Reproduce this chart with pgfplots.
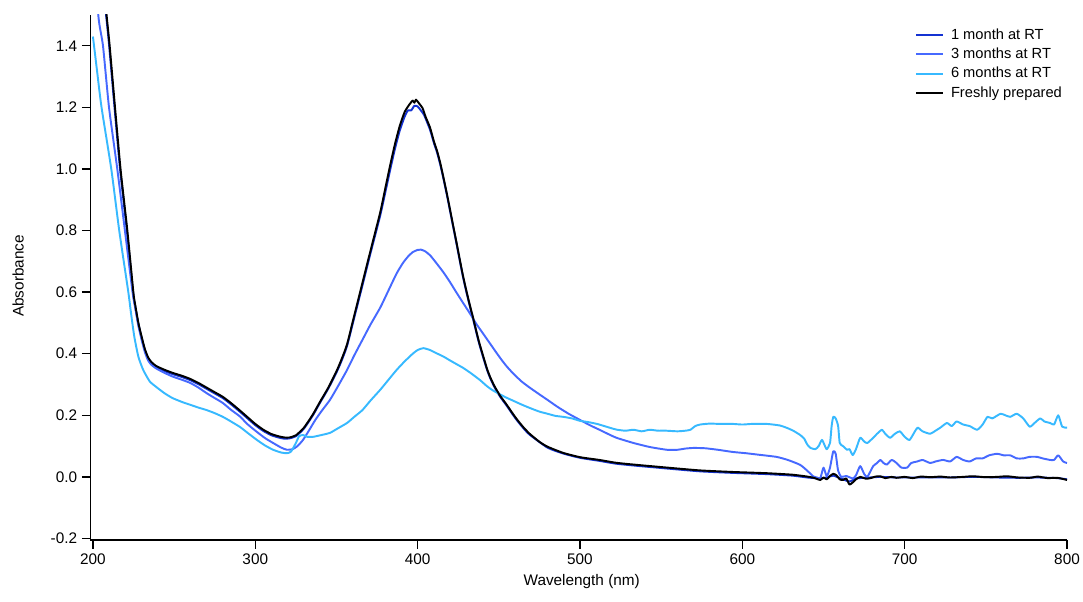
\documentclass[border=0pt]{standalone}
\usepackage{fontspec}
\setmainfont{Liberation Sans}
\usepackage{pgfplots}
\usepackage{pgfplotstable}
\pgfplotsset{compat=1.18}
\definecolor{c1m}{RGB}{20,50,210}
\definecolor{c3m}{RGB}{70,105,255}
\definecolor{c6m}{RGB}{55,185,255}
\newcommand{\tickfont}{\fontsize{11.5}{13}\selectfont}

\pgfplotstableread{
x y
200 1.95
205 1.69
208.4 1.50
210.3 1.40
213.6 1.20
217.0 1.00
221.2 0.80
224.9 0.60
226 0.56
228 0.50
230 0.455
232 0.415
234 0.388
236 0.373
239 0.36
244 0.348
249 0.338
255 0.328
260 0.318
265 0.305
270 0.290
275 0.275
280 0.260
285 0.240
290 0.218
295 0.195
300 0.172
305 0.153
310 0.139
315 0.131
318 0.128
321 0.128
325 0.135
330 0.160
335.5 0.203
340 0.245
345 0.290
350 0.343
353 0.380
356.5 0.43
361 0.525
366 0.63
371 0.735
377 0.86
380 0.935
383 1.01
386 1.08
389 1.14
392 1.185
395 1.21
397 1.222
398 1.215
399 1.225
401 1.212
403 1.198
405 1.168
407.6 1.135
410 1.09
412 1.058
414 1.018
416 0.97
418 0.92
420 0.867
422 0.813
424 0.76
426 0.705
428 0.652
430 0.605
432.3 0.555
434 0.52
436.4 0.468
438 0.435
440.5 0.39
442.8 0.35
444.6 0.325
447 0.298
448.7 0.282
451 0.262
454.9 0.234
458 0.21
461 0.188
465 0.162
469 0.14
475 0.114
480 0.098
489.6 0.078
500 0.064
512 0.055
522 0.046
533 0.040
554 0.030
574 0.021
594 0.016
615 0.012
631 0.007
640 0.001
644 -0.003
648 -0.010
650 -0.002
652 -0.008
654 0.003
656 0.010
658 0.005
660 -0.008
662 -0.010
664 -0.005
666 -0.025
668 -0.018
670 -0.008
672.6 0.000
676 -0.006
679 -0.004
682 0.001
685 0.002
688 -0.004
692 0.000
695 -0.003
700 0.000
705 -0.004
710 0.001
716 -0.001
722 0.001
728 -0.002
736 0.000
742 0.002
750 -0.001
757 0.000
763 0.002
770 -0.002
777 -0.003
782 0.001
788 -0.004
794 -0.003
800 -0.010
}\fresh

\pgfplotstableread{
x y
200 1.90
205 1.65
208.1 1.50
210.0 1.40
213.3 1.20
216.7 1.00
220.9 0.80
224.7 0.60
226 0.555
228 0.497
230 0.452
232 0.412
234 0.385
236 0.370
239 0.357
244 0.344
249 0.334
255 0.324
260 0.314
265 0.301
270 0.286
275 0.271
280 0.256
285 0.236
290 0.214
295 0.191
300 0.168
305 0.149
310 0.135
315 0.127
318 0.124
321 0.125
325 0.132
330 0.157
335.5 0.200
340 0.242
345 0.287
350 0.339
353 0.375
356.5 0.425
361 0.518
366 0.622
371 0.727
377 0.85
380 0.922
383 0.995
386 1.065
389 1.125
392 1.17
394 1.19
396 1.19
398 1.205
400 1.203
402 1.19
404 1.175
407.6 1.128
410 1.085
412 1.053
414 1.013
416 0.966
418 0.916
420 0.863
422 0.809
424 0.756
426 0.701
428 0.648
430 0.601
432.3 0.551
434 0.516
436.4 0.464
438 0.431
440.5 0.386
442.8 0.347
444.6 0.322
447 0.295
448.7 0.279
451 0.259
454.9 0.231
458 0.207
461 0.185
465 0.159
469 0.137
480 0.095
489.6 0.076
500 0.062
512 0.052
522 0.043
533 0.037
554 0.027
574 0.018
594 0.013
615 0.009
631 0.004
640 -0.002
648 -0.005
652 -0.002
656 0.004
660 -0.004
666 -0.015
670 -0.005
676 -0.003
685 0.000
695 -0.002
705 -0.002
716 -0.002
728 -0.002
742 0.000
757 -0.002
770 -0.003
782 -0.002
794 -0.004
800 -0.008
}\onemonth

\pgfplotstableread{
x y
200 1.80
203.3 1.50
206.2 1.40
209.9 1.20
215.0 1.00
219.7 0.80
224.4 0.60
226 0.55
228 0.49
230 0.445
232 0.405
234 0.378
236 0.364
239 0.352
244 0.338
249 0.326
255 0.315
260 0.305
265 0.29
270 0.272
275 0.256
280 0.240
285 0.218
290.6 0.196
295 0.172
301 0.146
306 0.126
311 0.110
316 0.095
319.5 0.088
323 0.090
326 0.100
329.4 0.120
333 0.150
337 0.185
341 0.215
346 0.25
351 0.295
356.5 0.347
361 0.395
366 0.445
371 0.495
377 0.55
382 0.605
387 0.66
391 0.695
394 0.715
397 0.73
400 0.737
402 0.738
404.5 0.733
407.6 0.72
411 0.698
415.8 0.665
420 0.632
424 0.598
428 0.565
432.3 0.53
436 0.498
440.5 0.464
444.6 0.433
448.7 0.402
452 0.378
455 0.358
459 0.335
464 0.31
469 0.29
475 0.268
480 0.25
486 0.228
493 0.205
500 0.185
506 0.168
512 0.153
522 0.128
533 0.11
543 0.097
553.6 0.088
560 0.088
565 0.092
570 0.094
577 0.093
585 0.088
594 0.081
602 0.077
610 0.072
621 0.065
628 0.055
635.6 0.039
640 0.020
643.6 0.002
646 -0.002
648 -0.005
650 0.030
652 0.002
654 0.030
656 0.083
657.5 0.075
659 0.020
661 0.000
664 0.003
668 -0.005
670 0.005
672.6 0.035
675 0.010
677 0.000
680.6 0.035
683 0.045
685 0.055
687 0.045
689 0.040
692 0.055
695 0.045
698 0.030
701.5 0.030
704 0.045
707.7 0.050
711 0.055
715.7 0.045
719 0.050
723.7 0.055
728 0.050
732 0.065
736 0.055
740 0.050
744 0.060
748 0.060
752 0.070
757 0.075
761 0.070
765 0.070
769 0.060
773 0.060
777 0.065
781.6 0.065
785 0.060
789.6 0.055
792 0.055
794.6 0.070
797.6 0.050
800 0.045
}\threemonths

\pgfplotstableread{
x y
200 1.43
202.5 1.32
205.3 1.20
211.3 1.00
216.2 0.80
221.8 0.60
223.5 0.53
225.5 0.455
228 0.39
231 0.347
235 0.31
239 0.292
244 0.272
249 0.256
255 0.243
260 0.234
265 0.225
270 0.217
275 0.207
280 0.195
285 0.18
290.6 0.162
296 0.14
301 0.12
306 0.102
311 0.088
316 0.079
319.5 0.077
322 0.082
325 0.110
327 0.132
329.4 0.136
332 0.13
335.5 0.13
340 0.135
346 0.143
351 0.158
356.5 0.175
361 0.195
366 0.217
371 0.248
377 0.283
382 0.315
387 0.347
392 0.375
397 0.40
400 0.412
403.5 0.418
407.6 0.412
411 0.403
415.8 0.391
420 0.378
424 0.366
428 0.354
433 0.336
438.5 0.314
442.6 0.295
446 0.282
449 0.273
454 0.259
459 0.247
464 0.235
469 0.224
475 0.212
480 0.205
485 0.198
489.6 0.195
495 0.19
500 0.182
505 0.178
510.5 0.172
515 0.165
520 0.157
523 0.153
528 0.150
533 0.153
538 0.148
543 0.153
548 0.150
553 0.150
560 0.148
565 0.150
568 0.153
571 0.165
574 0.170
580 0.173
586 0.172
594 0.172
600 0.170
606 0.172
615 0.172
623 0.167
628 0.158
632 0.148
635.6 0.136
638 0.125
640 0.105
642 0.094
645 0.090
647 0.100
649 0.120
650.5 0.105
652 0.090
654 0.110
655 0.165
656 0.195
657.5 0.190
659 0.165
660 0.11
662 0.100
664.5 0.088
666 0.090
668 0.071
670 0.090
672.6 0.127
675 0.115
677 0.110
680.6 0.127
683 0.140
686 0.153
688 0.140
691 0.127
694 0.140
697 0.148
700 0.130
703 0.120
706 0.145
708 0.160
711 0.148
715.7 0.140
719 0.150
722 0.160
726 0.175
729 0.165
732 0.180
736 0.170
740 0.165
744.6 0.153
748 0.170
751 0.195
754 0.190
759 0.205
762 0.200
765 0.195
769 0.205
773 0.190
777 0.163
780 0.175
783.5 0.190
786 0.180
789.6 0.175
792 0.170
794.6 0.200
797 0.163
800 0.160
}\sixmonths

\begin{document}
\begin{tikzpicture}
\begin{axis}[
  scale only axis,
  width=732.4pt, height=393.75pt,
  xmin=198.5, xmax=800, ymin=-0.205, ymax=1.5,
  axis lines*=left,
  axis line style={line width=1.1pt, black, -},
  tick align=outside,
  major tick length=6.5pt,
  tick style={line width=1pt, black},
  xtick={200,300,...,800},
  ytick={-0.2,0,0.2,0.4,0.6,0.8,1.0,1.2,1.4},
  minor tick num=0,
  /pgf/number format/assume math mode=true,
  yticklabel style={font=\tickfont, /pgf/number format/.cd, fixed, fixed zerofill, precision=1},
  xticklabel style={font=\tickfont, /pgf/number format/.cd, fixed, precision=0, 1000 sep={}},
  xlabel={Wavelength (nm)},
  ylabel={Absorbance},
  every axis x label/.style={at={(axis description cs:0.503,-0.08)}, anchor=center, font=\tickfont},
  every axis y label/.style={at={(axis description cs:-0.0742,0.503)}, rotate=90, anchor=center, font=\tickfont},
  legend style={draw=none, fill=none, at={(rel axis cs:0.843,0.982)}, anchor=north west,
    font=\fontsize{11}{13}\selectfont, row sep=1pt, inner sep=1pt},
  legend cell align=left,
  legend image code/.code={\draw[#1] (0cm,0cm) -- (0.71cm,0cm); \path (0.82cm,0cm);},
  every axis plot/.append style={line width=1.45pt, line join=round, smooth, tension=0.35},
]
\addplot[c1m] table[x=x,y=y] {\onemonth};
\addlegendentry{1 month at RT}
\addplot[c3m] table[x=x,y=y] {\threemonths};
\addlegendentry{3 months at RT}
\addplot[c6m] table[x=x,y=y] {\sixmonths};
\addlegendentry{6 months at RT}
\addplot[black] table[x=x,y=y] {\fresh};
\addlegendentry{Freshly prepared}
\coordinate (SW) at (rel axis cs:0,0);
\end{axis}
\pgfresetboundingbox
\path ([shift={(-67.875pt,-45.75pt)}]SW) rectangle ([shift={(744.375pt,405pt)}]SW);
\end{tikzpicture}
\end{document}
